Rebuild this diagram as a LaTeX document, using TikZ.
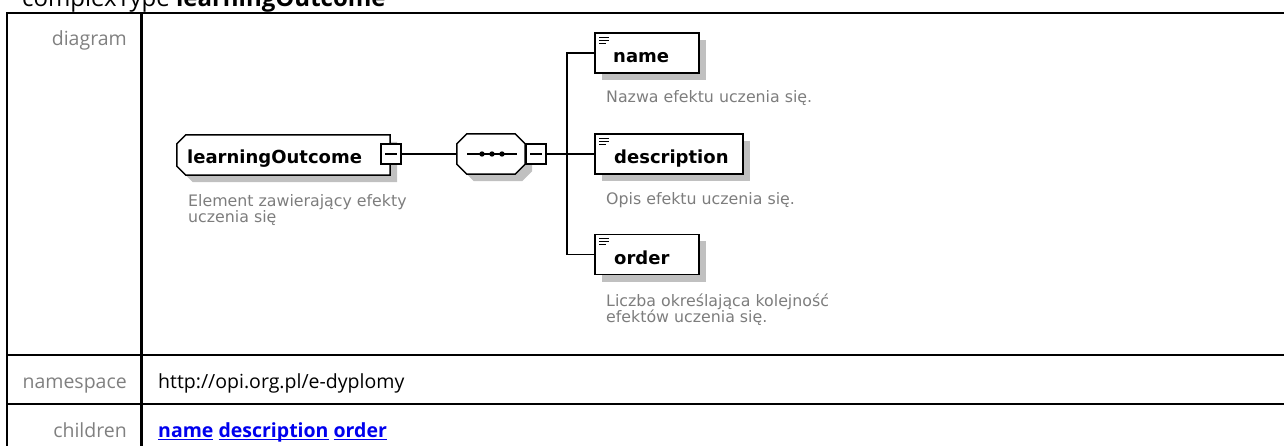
\documentclass[tikz,border=0pt]{standalone}
\usepackage{fontspec}
\setmainfont{Open Sans}
\newfontfamily\diagfont{DejaVu Sans}

\definecolor{labelgray}{RGB}{128,128,128}
\definecolor{notegray}{RGB}{125,125,125}
\definecolor{shadowgray}{RGB}{192,192,192}
\definecolor{linkblue}{RGB}{0,0,238}

\newlength\linkwd
\newcommand\linkword[1]{\settowidth\linkwd{#1}\rlap{\rule[-3pt]{\linkwd}{1.4pt}}#1}

\tikzset{
  rule/.style={line width=2.2pt},
  rowlabel/.style={anchor=base east, inner sep=0pt, text=labelgray, font=\fontsize{19.5}{23}\selectfont},
  cell/.style={anchor=base west, inner sep=0pt, font=\fontsize{19.5}{23}\selectfont},
  conn/.style={line width=1.4pt},
  outline/.style={fill=white, draw, line width=1.5pt},
  boxshadow/.style={fill=shadowgray, transform canvas={shift={(7pt,-7pt)}}},
  frame/.style={minimum height=40pt, inner sep=0pt},
  childbox/.style={draw, line width=1.5pt, fill=white, minimum height=40pt, inner sep=0pt,
    drop shadow={shadow xshift=7pt, shadow yshift=-7pt, fill=shadowgray, opacity=1},
    path picture={
      \draw[line width=1.1pt] ([shift={(4pt,-4.3pt)}]path picture bounding box.north west) -- ++(10pt,0pt);
      \draw[line width=1.1pt] ([shift={(4pt,-7.3pt)}]path picture bounding box.north west) -- ++(10pt,0pt);
      \draw[line width=1.1pt] ([shift={(4pt,-10.3pt)}]path picture bounding box.north west) -- ++(7pt,0pt);}},
  minusbox/.style={draw, line width=1.4pt, fill=white, minimum size=20pt, inner sep=0pt, path picture={
      \draw[line width=1.2pt] ([xshift=4pt]path picture bounding box.west) -- ([xshift=-4pt]path picture bounding box.east);}},
  ename/.style={anchor=base west, inner sep=0pt, font=\diagfont\bfseries\fontsize{18}{21}\selectfont},
  note/.style={anchor=base west, inner sep=0pt, align=left, text=notegray, font=\diagfont\fontsize{15.8}{16}\selectfont}
}
\usetikzlibrary{shadows}

\begin{document}
\begin{tikzpicture}[x=1pt,y=-1pt]
    \useasboundingbox (0,0) rectangle (1284,446);

    % heading, cut off by the top edge
    \node[anchor=base west, inner sep=0pt, font=\fontsize{24}{28}\selectfont] (title) at (22,6.5) {complexType \textbf{learningOutcome}};

    % table rules
    \draw[rule] (7,446) -- (7,13) -- (1290,13);
    \draw[rule] (141.5,13) -- (141.5,446);
    \draw[rule] (7,355) -- (1290,355);
    \draw[rule] (7,404) -- (1290,404);

    \node[rowlabel] (diagramLabel) at (127,46) {diagram};
    \node[rowlabel] (namespaceLabel) at (127,388) {namespace};
    \node[rowlabel] (childrenLabel) at (127,437) {children};

    \node[cell] (namespaceCell) at (158,388) {http://opi.org.pl/e-dyplomy};
    \node[cell, text=linkblue, font=\fontsize{19.5}{23}\selectfont\bfseries] (childrenCell) at (158,437) {\linkword{name} \linkword{description} \linkword{order}};

    % element and sequence
    \node[frame, minimum width=213pt] (lo) at (283.5,155) {};
    \node[frame, minimum width=68pt] (seq) at (491,154) {};

    \fill[boxshadow] ([xshift=9pt]lo.north west) -- (lo.north east) -- (lo.south east) -- ([xshift=9pt]lo.south west)
        -- ([yshift=9pt]lo.south west) -- ([yshift=-9pt]lo.north west) -- cycle;
    \path[outline] ([xshift=9pt]lo.north west) -- (lo.north east) -- (lo.south east) -- ([xshift=9pt]lo.south west)
        -- ([yshift=9pt]lo.south west) -- ([yshift=-9pt]lo.north west) -- cycle;

    \fill[boxshadow] ([xshift=10pt]seq.north west) -- ([xshift=-10pt]seq.north east) -- ([yshift=-10pt]seq.north east)
        -- ([yshift=10pt]seq.south east) -- ([xshift=-10pt]seq.south east) -- ([xshift=10pt]seq.south west)
        -- ([yshift=10pt]seq.south west) -- ([yshift=-10pt]seq.north west) -- cycle;
    \path[outline] ([xshift=10pt]seq.north west) -- ([xshift=-10pt]seq.north east) -- ([yshift=-10pt]seq.north east)
        -- ([yshift=10pt]seq.south east) -- ([xshift=-10pt]seq.south east) -- ([xshift=10pt]seq.south west)
        -- ([yshift=10pt]seq.south west) -- ([yshift=-10pt]seq.north west) -- cycle;

    \node[minusbox] (loMinus) at (391,154) {};
    \node[minusbox] (seqMinus) at (536,154) {};

    % children
    \node[childbox, minimum width=104pt] (name) at (647,53) {};
    \node[childbox, minimum width=148pt] (description) at (669,154) {};
    \node[childbox, minimum width=104pt] (order) at (647,254.5) {};

    \node[ename] (loText) at (187,163.5) {learningOutcome};
    \node[ename] (nameText) at (613,63) {name};
    \node[ename] (descriptionText) at (614,164) {description};
    \node[ename] (orderText) at (614,264.5) {order};

    \node[note] (loNote) at (188,222.7) {Element zawierający efekty\\uczenia się};
    \node[note] (nameNote) at (606,103) {Nazwa efektu uczenia się.};
    \node[note] (descriptionNote) at (606,205) {Opis efektu uczenia się.};
    \node[note] (orderNote) at (606,322.5) {Liczba określająca kolejność\\efektów uczenia się.};

    % connectors
    \coordinate (bus) at (567,154);
    \draw[conn] (loMinus.east) -- (seq.west);
    \draw[conn] (seqMinus.east) -- (description.west);
    \draw[conn] (name.west) -| (bus) |- (order.west);

    % sequence symbol
    \draw[conn] ([xshift=-24pt]seq.center) -- ([xshift=26pt]seq.center);
    \fill ([xshift=-9pt]seq.center) circle (2.7pt);
    \fill ([xshift=1pt]seq.center) circle (2.7pt);
    \fill ([xshift=11pt]seq.center) circle (2.7pt);
\end{tikzpicture}
\end{document}
